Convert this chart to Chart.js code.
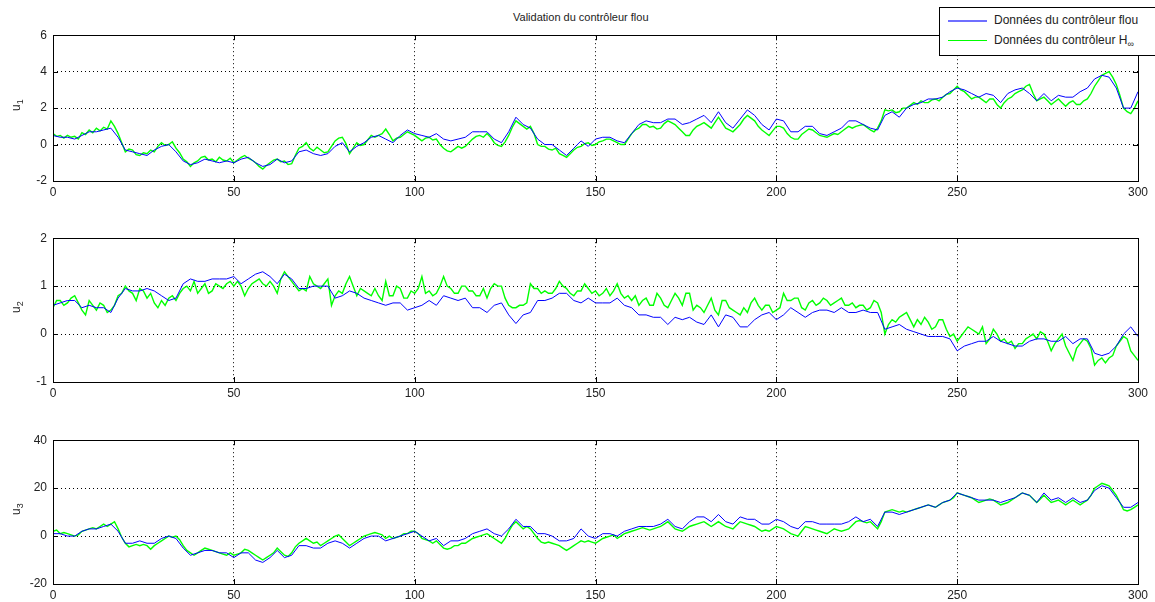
<!DOCTYPE html>
<html lang="fr">
<head>
    <meta charset="UTF-8">
    <title>Validation du contrôleur flou</title>
    <script src="https://cdn.jsdelivr.net/npm/chart.js"></script>
    <style>
        body { margin: 0; background: #fff; font-family: "Liberation Sans", Arial, sans-serif; }
        .wrap { position: relative; width: 1155px; height: 602px; overflow: hidden; }
        canvas { position: absolute; left: 0; }
        .title { position: absolute; top: 11px; left: 513px; font-size: 11px; color: #222; white-space: nowrap; }
        .ylab { position: absolute; font-size: 12px; color: #222; transform: rotate(-90deg); transform-origin: center; white-space: nowrap; }
        .ylab sub { font-size: 9px; }
        .legend { position: absolute; left: 939px; top: 7px; width: 230px; height: 47px; border: 1px solid #000; background: #fff; z-index: 5; font-size: 12px; color: #222; }
        .legend .row { position: absolute; left: 8px; height: 16px; line-height: 16px; white-space: nowrap; }
        .legend .ln { display: inline-block; width: 39px; height: 0; vertical-align: middle; margin-right: 7px; }
        .legend sub { font-size: 9px; }
    </style>
</head>
<body>
<div class="wrap">
    <div class="title">Validation du contrôleur flou</div>
    <div class="legend">
        <div class="row" style="top:4px"><span class="ln" style="border-top:2px solid #6f6fff"></span>Données du contrôleur flou</div>
        <div class="row" style="top:24px"><span class="ln" style="border-top:1px solid #00ff00"></span>Données du contrôleur H<sub>∞</sub></div>
    </div>
    <canvas id="c1" width="1155" height="179"></canvas>
    <canvas id="c2" width="1155" height="177"></canvas>
    <canvas id="c3" width="1155" height="177"></canvas>
    <div class="ylab" style="left:11px;top:97px">u<sub>1</sub></div>
    <div class="ylab" style="left:11px;top:299px">u<sub>2</sub></div>
    <div class="ylab" style="left:11px;top:501px">u<sub>3</sub></div>
</div>

<script>
// sample grids: fuzzy controller read every 2 s, H-inf controller every 1 s
const timesFlou = [];
for (let s = 0; s <= 300; s += 2) timesFlou.push(s);
const timesHinf = [];
for (let s = 0; s <= 300; s += 1) timesHinf.push(s);

const xTicks = [0, 50, 100, 150, 200, 250, 300];

// u1
const u1Flou = [
    0.5, 0.4, 0.4, 0.3, 0.5, 0.7, 0.7, 0.8, 0.9, 0.4,
    -0.3, -0.4, -0.5, -0.6, -0.3, -0.1, 0.0, -0.4, -0.9, -1.1,
    -1.0, -0.8, -0.9, -1.0, -0.9, -1.0, -0.8, -0.7, -1.0, -1.2,
    -1.1, -0.8, -1.0, -0.9, -0.4, -0.3, -0.5, -0.6, -0.5, -0.1,
    0.1, -0.4, -0.1, 0.1, 0.4, 0.5, 0.3, 0.1, 0.5, 0.8,
    0.6, 0.5, 0.4, 0.6, 0.3, 0.2, 0.3, 0.4, 0.7, 0.7,
    0.7, 0.3, 0.1, 0.7, 1.5, 1.1, 0.9, 0.3, 0.0, 0.0,
    -0.3, -0.6, -0.2, 0.2, -0.1, 0.3, 0.4, 0.4, 0.2, 0.1,
    0.6, 1.1, 1.3, 1.2, 1.2, 1.4, 1.4, 1.1, 1.2, 1.4,
    1.6, 1.2, 1.8, 1.2, 0.9, 1.4, 1.9, 1.6, 1.1, 0.8,
    1.4, 1.3, 0.7, 0.7, 1.0, 1.0, 0.6, 0.5, 0.7, 0.9,
    1.3, 1.3, 1.1, 0.9, 0.8, 1.6, 1.8, 1.5, 2.0, 2.2,
    2.3, 2.5, 2.5, 2.6, 2.9, 3.1, 3.0, 2.8, 2.6, 2.8,
    2.7, 2.3, 2.8, 3.0, 3.1, 2.8, 2.4, 2.8, 2.4, 2.7,
    2.6, 2.6, 2.9, 3.1, 3.6, 3.8, 3.7, 3.1, 2.0, 2.0,
    2.9
];
const u1Hinf = [
    0.6, 0.45, 0.5, 0.35, 0.5, 0.4, 0.45, 0.3, 0.65, 0.55,
    0.8, 0.65, 0.9, 0.75, 0.95, 0.85, 1.3, 1.0, 0.6, 0.1,
    -0.4, -0.25, -0.3, -0.55, -0.6, -0.45, -0.5, -0.3, -0.4, -0.1,
    0.1, -0.05, 0.0, 0.15, -0.2, -0.45, -0.8, -0.95, -1.2, -1.0,
    -0.9, -0.7, -0.65, -0.85, -0.8, -0.95, -0.7, -0.85, -0.9, -0.75,
    -1.0, -0.85, -0.7, -0.6, -0.75, -0.85, -1.0, -1.2, -1.35, -1.15,
    -1.0, -0.85, -0.8, -0.95, -0.9, -1.1, -1.05, -0.6, -0.2, -0.1,
    0.1, -0.2, -0.35, -0.15, -0.3, -0.45, -0.4, -0.1, 0.2, 0.35,
    0.4, 0.05, -0.5, -0.2, 0.1, -0.05, 0.0, 0.25, 0.5, 0.4,
    0.5, 0.6, 0.85, 0.55, 0.2, 0.35, 0.4, 0.55, 0.7, 0.6,
    0.5, 0.35, 0.2, 0.35, 0.4, 0.25, 0.3, 0.0, -0.2, -0.35,
    -0.4, -0.25, -0.1, -0.2, -0.1, 0.1, 0.3, 0.45, 0.5, 0.4,
    0.6, 0.4, 0.1, -0.05, -0.1, 0.15, 0.5, 0.95, 1.3, 1.15,
    1.0, 0.85, 1.0, 0.6, 0.0, -0.1, -0.1, -0.25, -0.3, -0.2,
    -0.5, -0.6, -0.7, -0.5, -0.3, -0.15, -0.1, 0.05, 0.1, -0.05,
    0.0, 0.15, 0.2, 0.3, 0.3, 0.2, 0.1, 0.0, 0.0, 0.3,
    0.6, 0.8, 0.9, 1.1, 1.1, 0.95, 1.0, 0.85, 0.9, 1.15,
    1.3, 1.2, 1.1, 0.9, 0.7, 0.5, 0.5, 0.8, 1.0, 1.1,
    1.2, 1.05, 0.9, 1.2, 1.5, 1.2, 0.9, 0.8, 0.7, 0.9,
    1.1, 1.4, 1.6, 1.45, 1.3, 1.0, 0.8, 0.65, 0.5, 0.75,
    1.0, 1.0, 0.9, 0.6, 0.4, 0.3, 0.3, 0.55, 0.7, 0.85,
    0.8, 0.65, 0.5, 0.45, 0.4, 0.5, 0.6, 0.55, 0.7, 0.85,
    1.0, 0.9, 1.0, 1.05, 1.1, 0.95, 0.8, 0.7, 0.9, 1.3,
    1.9, 1.85, 1.9, 1.75, 1.8, 2.0, 2.0, 2.15, 2.3, 2.2,
    2.4, 2.3, 2.3, 2.45, 2.5, 2.4, 2.6, 2.75, 2.8, 3.0,
    3.2, 3.0, 2.9, 2.7, 2.5, 2.6, 2.6, 2.45, 2.3, 2.5,
    2.5, 2.2, 2.0, 2.3, 2.5, 2.6, 2.8, 2.9, 3.0, 3.2,
    3.3, 2.8, 2.4, 2.5, 2.6, 2.4, 2.2, 2.35, 2.5, 2.3,
    2.1, 2.3, 2.4, 2.2, 2.2, 2.4, 2.5, 2.8, 3.2, 3.5,
    3.8, 3.9, 4.0, 3.7, 3.3, 2.7, 2.0, 1.8, 1.7, 2.0,
    2.4
];

// u2
const u2Flou = [
    0.6, 0.65, 0.7, 0.7, 0.55, 0.6, 0.55, 0.55, 0.45, 0.75,
    0.95, 0.9, 0.9, 0.95, 0.9, 0.8, 0.7, 0.75, 1.05, 1.15,
    1.1, 1.1, 1.15, 1.15, 1.15, 1.2, 1.05, 1.15, 1.25, 1.3,
    1.2, 1.05, 1.25, 1.15, 0.95, 0.95, 1.0, 1.0, 1.0, 0.75,
    0.8, 0.9, 0.85, 0.75, 0.7, 0.65, 0.6, 0.65, 0.65, 0.5,
    0.55, 0.6, 0.7, 0.6, 0.8, 0.75, 0.7, 0.75, 0.55, 0.55,
    0.45, 0.6, 0.65, 0.4, 0.22, 0.4, 0.45, 0.7, 0.7, 0.75,
    0.85, 0.85, 0.7, 0.65, 0.75, 0.65, 0.65, 0.65, 0.75, 0.6,
    0.55, 0.4, 0.4, 0.35, 0.35, 0.2, 0.35, 0.3, 0.35, 0.25,
    0.2, 0.4, 0.15, 0.4, 0.35, 0.15, 0.15, 0.3, 0.4, 0.45,
    0.3, 0.4, 0.55, 0.45, 0.35, 0.45, 0.5, 0.5, 0.45, 0.55,
    0.45, 0.45, 0.5, 0.45, 0.45, 0.1, 0.15, 0.2, 0.1, 0.05,
    0.0, -0.05, -0.05, -0.05, -0.1, -0.35, -0.25, -0.2, -0.15, -0.15,
    -0.05, -0.15, -0.2, -0.25, -0.25, -0.15, -0.1, -0.1, -0.15, -0.15,
    -0.05, -0.2, -0.1, -0.1, -0.4, -0.45, -0.4, -0.25, 0.0, 0.15,
    -0.05
];
const u2Hinf = [
    0.55, 0.7, 0.7, 0.6, 0.65, 0.75, 0.8, 0.65, 0.5, 0.4,
    0.7, 0.6, 0.5, 0.65, 0.6, 0.45, 0.5, 0.6, 0.8, 0.85,
    1.0, 0.9, 0.85, 0.7, 0.95, 0.9, 0.75, 0.85, 0.65, 0.55,
    0.7, 0.6, 0.75, 0.8, 0.7, 0.85, 0.95, 1.0, 0.9, 1.1,
    0.85, 0.95, 1.05, 0.85, 0.9, 1.05, 1.0, 0.95, 1.05, 1.1,
    1.0, 1.1, 1.0, 0.8, 0.95, 1.05, 1.1, 1.15, 1.05, 1.0,
    1.1, 1.0, 0.85, 1.15, 1.3, 1.2, 1.1, 1.0, 0.9, 0.95,
    0.9, 1.2, 1.05, 1.0, 0.95, 1.05, 1.15, 0.6, 0.8, 0.9,
    0.85, 1.05, 1.2, 1.0, 0.8, 0.95, 0.9, 0.85, 0.8, 0.95,
    0.8, 0.7, 1.1, 0.8, 0.8, 1.0, 0.95, 0.75, 0.75, 0.9,
    0.85, 0.95, 1.2, 0.85, 0.9, 0.8, 0.85, 1.0, 1.2, 1.0,
    0.95, 0.85, 0.85, 1.0, 1.0, 0.9, 0.9, 0.8, 0.8, 0.95,
    0.75, 0.95, 1.05, 1.0, 1.0, 0.75, 0.6, 0.55, 0.55, 0.6,
    0.6, 0.65, 1.05, 0.95, 0.95, 0.85, 0.9, 0.85, 0.85, 0.95,
    1.1, 1.0, 0.95, 0.85, 0.8, 0.9, 0.9, 1.05, 0.95, 0.85,
    0.9, 0.8, 0.85, 0.95, 0.8, 0.9, 1.05, 0.85, 0.75, 0.8,
    0.7, 0.8, 0.6, 0.7, 0.75, 0.6, 0.6, 0.85, 0.75, 0.6,
    0.55, 0.7, 0.85, 0.75, 0.6, 0.85, 0.85, 0.5, 0.6, 0.55,
    0.45, 0.6, 0.75, 0.5, 0.4, 0.7, 0.7, 0.55, 0.5, 0.45,
    0.4, 0.55, 0.45, 0.65, 0.75, 0.6, 0.5, 0.6, 0.6, 0.45,
    0.5, 0.55, 0.85, 0.7, 0.7, 0.75, 0.75, 0.55, 0.5, 0.65,
    0.7, 0.6, 0.65, 0.75, 0.7, 0.6, 0.65, 0.7, 0.75, 0.6,
    0.6, 0.65, 0.55, 0.6, 0.6, 0.5, 0.55, 0.7, 0.65, 0.45,
    0.0, 0.2, 0.3, 0.25, 0.35, 0.4, 0.45, 0.3, 0.15, 0.3,
    0.2, 0.35, 0.25, 0.1, 0.15, 0.3, 0.3, 0.1, -0.05, 0.0,
    -0.15, -0.05, 0.05, 0.15, 0.1, 0.05, 0.0, 0.15, -0.2, -0.1,
    0.1, 0.0, -0.15, -0.1, -0.2, -0.15, -0.3, -0.2, -0.2, -0.1,
    -0.05, 0.0, -0.1, 0.05, 0.0, -0.15, -0.35, -0.2, -0.1, 0.0,
    -0.25, -0.4, -0.55, -0.3, -0.2, -0.1, -0.15, -0.3, -0.65, -0.55,
    -0.5, -0.6, -0.5, -0.45, -0.25, -0.15, -0.05, -0.1, -0.35, -0.45,
    -0.55
];

// u3
const u3Flou = [
    1, 1, 0, 0, 2, 3, 3, 4, 5, 2,
    -3, -3, -2, -3, -3, -1, 0, -1, -5, -8,
    -7, -6, -6, -7, -7, -9, -7, -7, -10, -11,
    -9, -6, -9, -8, -4, -4, -5, -5, -3, -2,
    -3, -5, -3, -1, 0, 0, -2, -1, 0, 1,
    2, 0, -2, -1, -4, -2, -2, -1, 1, 2,
    3, 1, 0, 3, 7, 4, 4, 1, 1, 0,
    -2, -2, -1, 3, 0, -1, 1, 1, 0, 2,
    3, 4, 4, 4, 5, 7, 4, 3, 6, 8,
    8, 6, 9, 6, 5, 8, 7, 7, 5, 5,
    7, 6, 4, 3, 6, 6, 5, 5, 5, 5,
    6, 8, 6, 7, 4, 10, 10, 9, 10, 11,
    12, 13, 12, 14, 15, 18, 17, 16, 15, 15,
    15, 14, 15, 16, 18, 17, 14, 18, 15, 16,
    14, 16, 14, 15, 19, 21, 20, 16, 12, 12,
    14
];
const u3Hinf = [
    2, 2.5, 1, 1.5, 1, 0.5, 0, 0.5, 2, 2.5,
    3, 3.5, 3, 4, 5, 4, 5, 6, 3, -0.5,
    -3, -4.5, -4, -3.5, -4, -3.5, -4, -5.5, -4, -3,
    -2, -1, 0, -0.5, 0, -1.5, -4, -6, -7, -8,
    -7, -6, -5, -5.5, -6, -6.5, -7, -7.5, -8, -7,
    -8, -7.5, -7, -5.5, -6, -7, -8, -9, -10, -9,
    -8, -7, -5, -6.5, -8, -8.5, -7, -4.5, -3, -2,
    -1, -2, -3, -2.5, -4, -3, -2, -1, 0, 0.5,
    -1, -2.5, -4, -3, -2, -1, 0, 0.5, 1, 1.5,
    1, 0.5, -1, 0, -1, -0.5, 0, 1, 1, 2,
    2, 1, -1, -1.5, -2, -3, -2, -3.5, -5, -5.5,
    -5, -4, -4, -3, -3, -2, -1, -0.5, 0, 0.5,
    1, 0, -1, -2, -3, -1, 2, 4.5, 6, 4.5,
    3, 4, 3, 1, -1, -2.5, -3, -2.5, -3, -3.5,
    -4, -5, -6, -5, -4, -3, -2, -2.5, -2, -2.5,
    -3, -2, -1, -0.5, 0, 0.5, -1, 0, 1, 1.5,
    2, 2.5, 3, 3.5, 3, 2.5, 3, 3.5, 4, 5,
    6, 4.5, 3, 2.5, 2, 3, 4, 4.5, 5, 5.5,
    6, 5, 4, 5, 6, 5, 4, 3.5, 3, 4.5,
    6, 5.5, 5, 4.5, 4, 3, 2, 2.5, 2, 3,
    4, 3.5, 3, 2, 1, 0.5, 0, 2, 4, 3.5,
    3, 2.5, 2, 1.5, 1, 2, 3, 2.5, 2, 2.5,
    3, 4.5, 6, 6.5, 6, 5.5, 6, 4.5, 3, 6,
    10, 10.5, 11, 10.5, 10, 10.5, 10, 10.5, 11, 11.5,
    12, 12.5, 13, 12.5, 12, 13, 14, 14.5, 15, 16,
    18, 17.5, 17, 16.5, 16, 15, 14, 14.5, 15, 15.5,
    15, 14, 13, 13.5, 14, 15, 16, 17, 18, 17.5,
    17, 15.5, 14, 15.5, 17, 15.5, 14, 14.5, 15, 14,
    13, 14, 15, 14, 13, 14, 15, 17, 20, 21,
    22, 21.5, 21, 19, 17, 14, 11, 10.5, 11, 12,
    13
];

const panels = [
    { id: 'c1', top: 22, flou: u1Flou, hinf: u1Hinf, yMin: -2, yMax: 6, yStep: 2 },
    { id: 'c2', top: 225, flou: u2Flou, hinf: u2Hinf, yMin: -1, yMax: 2, yStep: 1 },
    { id: 'c3', top: 427, flou: u3Flou, hinf: u3Hinf, yMin: -20, yMax: 40, yStep: 20 }
];

// matlab-like frame: box + inward ticks on all four sides
const framePlugin = {
    id: 'frame',
    afterDatasetsDraw(chart) {
        const ctx = chart.ctx;
        const a = chart.chartArea;
        const xs = chart.scales.x, ys = chart.scales.y;
        ctx.save();
        ctx.strokeStyle = '#000';
        ctx.lineWidth = 1;
        ctx.beginPath();
        xs.ticks.forEach(t => {
            const px = Math.round(xs.getPixelForValue(t.value)) + 0.5;
            ctx.moveTo(px, a.bottom); ctx.lineTo(px, a.bottom - 5);
            ctx.moveTo(px, a.top); ctx.lineTo(px, a.top + 5);
        });
        ys.ticks.forEach(t => {
            const py = Math.round(ys.getPixelForValue(t.value)) + 0.5;
            ctx.moveTo(a.left, py); ctx.lineTo(a.left + 5, py);
            ctx.moveTo(a.right, py); ctx.lineTo(a.right - 5, py);
        });
        ctx.stroke();
        ctx.strokeRect(Math.round(a.left) + 0.5, Math.round(a.top) + 0.5,
            Math.round(a.right - a.left), Math.round(a.bottom - a.top));
        ctx.restore();
    }
};

const tickFont = { family: '"Liberation Sans", Arial, sans-serif', size: 12 };

panels.forEach(p => {
    const cv = document.getElementById(p.id);
    cv.style.top = p.top + 'px';
    new Chart(cv, {
        type: 'line',
        data: {
            datasets: [
                {
                    label: 'Données du contrôleur flou',
                    data: timesFlou.map((s, i) => ({ x: s, y: p.flou[i] })),
                    borderColor: '#0000ff',
                    borderWidth: 1,
                    pointRadius: 0,
                    tension: 0
                },
                {
                    label: 'Données du contrôleur H∞',
                    data: timesHinf.map((s, i) => ({ x: s, y: p.hinf[i] })),
                    borderColor: '#00ff00',
                    borderWidth: 1.4,
                    pointRadius: 0,
                    tension: 0
                }
            ]
        },
        options: {
            responsive: false,
            animation: false,
            devicePixelRatio: 1,
            layout: { padding: { top: 8, right: 17, left: 0, bottom: 0 } },
            plugins: { legend: { display: false }, tooltip: { enabled: false } },
            scales: {
                x: {
                    type: 'linear',
                    min: 0,
                    max: 300,
                    afterBuildTicks: s => { s.ticks = xTicks.map(v => ({ value: v })); },
                    afterFit: s => { s.height = 20; },
                    grid: { color: '#000', lineWidth: 1, drawTicks: false },
                    border: { display: false, dash: [1, 3] },
                    ticks: { color: '#222', font: tickFont, padding: 4, maxRotation: 0 }
                },
                y: {
                    min: p.yMin,
                    max: p.yMax,
                    afterFit: s => { s.width = 53; },
                    grid: { color: '#000', lineWidth: 1, drawTicks: false },
                    border: { display: false, dash: [1, 3] },
                    ticks: { color: '#222', font: tickFont, padding: 6, stepSize: p.yStep }
                }
            }
        },
        plugins: [framePlugin]
    });
});
</script>
</body>
</html>
